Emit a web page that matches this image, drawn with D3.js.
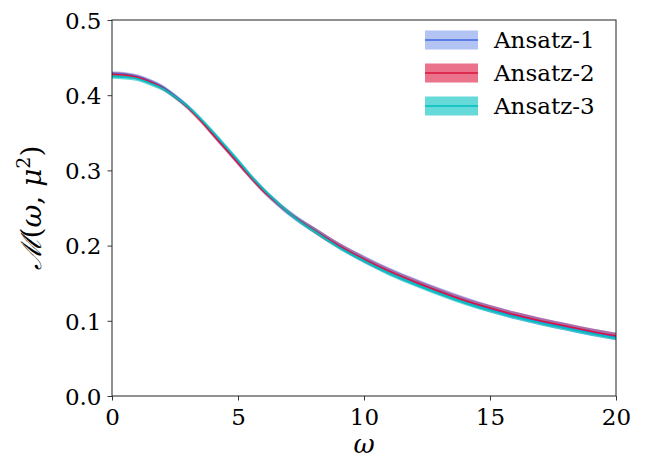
<!DOCTYPE html>
<html><head><meta charset="utf-8">
<script src="https://cdn.jsdelivr.net/npm/d3@7"></script>
<style>body{margin:0;background:#fff}svg{display:block}</style>
</head><body>
<svg id="chart" width="645" height="458"></svg>
<script>
const omega   = [0,0.5,1,1.5,2,2.5,3,3.5,4,4.5,5,5.5,6,6.5,7,7.5,8,9,10,11,12,13,14,15,16,17,18,19,20];
const ansatz1 = [0.429,0.428,0.425,0.419,0.411,0.399,0.385,0.368,0.349,0.330,0.311,0.292,0.274,0.258,0.244,0.232,0.221,0.200,0.182,0.166,0.152,0.139,0.127,0.116,0.107,0.099,0.092,0.085,0.079];
const err1    = [0.003,0.003,0.003,0.003,0.003,0.003,0.003,0.003,0.004,0.004,0.004,0.004,0.004,0.004,0.004,0.004,0.004,0.004,0.005,0.005,0.005,0.005,0.005,0.005,0.005,0.005,0.005,0.005,0.005];
const ansatz2 = [0.428,0.427,0.424,0.418,0.410,0.398,0.384,0.367,0.348,0.329,0.310,0.291,0.273,0.258,0.244,0.232,0.221,0.200,0.182,0.166,0.152,0.139,0.127,0.117,0.108,0.100,0.093,0.086,0.080];
const err2    = [0.003,0.003,0.003,0.003,0.003,0.003,0.003,0.003,0.003,0.003,0.003,0.003,0.003,0.003,0.003,0.003,0.004,0.004,0.004,0.004,0.004,0.004,0.004,0.004,0.004,0.004,0.004,0.004,0.004];
const ansatz3 = [0.425,0.424,0.422,0.416,0.409,0.398,0.385,0.369,0.351,0.332,0.313,0.293,0.275,0.259,0.244,0.231,0.220,0.198,0.180,0.163,0.149,0.136,0.124,0.114,0.105,0.097,0.090,0.083,0.077];
const err3    = [0.003,0.003,0.003,0.003,0.003,0.003,0.003,0.003,0.003,0.003,0.003,0.003,0.003,0.003,0.003,0.003,0.003,0.003,0.003,0.003,0.003,0.003,0.003,0.003,0.003,0.003,0.003,0.003,0.003];
const seriesNames = ["Ansatz-1","Ansatz-2","Ansatz-3"];
const xTicks = [0,5,10,15,20];
const yTicks = [0.0,0.1,0.2,0.3,0.4,0.5];

const series = [
  {name: seriesNames[0], mean: ansatz1, err: err1, fill: "rgba(65,105,225,0.4)", line: "#4169E1"},
  {name: seriesNames[1], mean: ansatz2, err: err2, fill: "rgba(220,20,60,0.6)", line: "#DC143C"},
  {name: seriesNames[2], mean: ansatz3, err: err3, fill: "rgba(0,191,191,0.6)", line: "#00BFBF"}
];

const svg = d3.select("#chart");
const L = 112, R = 616, T = 20, B = 396;
const x = d3.scaleLinear().domain([0,20]).range([L,R]);
const y = d3.scaleLinear().domain([0,0.5]).range([B,T]);
const font = "'DejaVu Serif', serif";

svg.append("defs").append("clipPath").attr("id","clip")
  .append("rect").attr("x",L).attr("y",T).attr("width",R-L).attr("height",B-T);
const g = svg.append("g").attr("clip-path","url(#clip)");

const curve = d3.curveMonotoneX;
const area = s => d3.area().curve(curve)
  .x((d,i)=>x(omega[i])).y0((d,i)=>y(s.mean[i]-s.err[i])).y1((d,i)=>y(s.mean[i]+s.err[i]));
const line = s => d3.line().curve(curve).x((d,i)=>x(omega[i])).y((d,i)=>y(s.mean[i]));

// fills: red first, then blue, then cyan
[series[1], series[0], series[2]].forEach(s=>{
  g.append("path").attr("d", area(s)(s.mean)).attr("fill", s.fill).attr("stroke","none");
});
[series[0], series[1], series[2]].forEach(s=>{
  g.append("path").attr("d", line(s)(s.mean)).attr("fill","none").attr("stroke", s.line).attr("stroke-width",1.5);
});

// axes
const xAxis = d3.axisBottom(x).tickValues(xTicks).tickFormat(d3.format("d")).tickSize(4.5).tickPadding(5);
const yAxis = d3.axisLeft(y).tickValues(yTicks).tickFormat(d3.format(".1f")).tickSize(4.5).tickPadding(6);
const gx = svg.append("g").attr("transform",`translate(0,${B})`).call(xAxis);
const gy = svg.append("g").attr("transform",`translate(${L},0)`).call(yAxis);
[gx,gy].forEach(a=>{
  a.select(".domain").remove();
  a.selectAll(".tick line").attr("stroke","#222").attr("stroke-width",0.9);
  a.selectAll(".tick text").attr("fill","#000").style("font-family",font).style("font-size","23px");
});
gx.selectAll(".tick text").attr("dy","0.85em");
gy.selectAll(".tick text").attr("dy","0.36em");

// frame
svg.append("rect").attr("x",L).attr("y",T).attr("width",R-L).attr("height",B-T)
  .attr("fill","none").attr("stroke","#222").attr("stroke-width",1);

// axis labels
svg.append("text").attr("x",(L+R)/2).attr("y",453).attr("text-anchor","middle")
  .style("font-family",font).style("font-size","26px").style("font-style","italic").text("ω");
const yl = svg.append("text").attr("transform",`translate(41,${(T+B)/2}) rotate(-90)`)
  .attr("text-anchor","middle").style("font-family",font).style("font-size","28px");
yl.append("tspan").style("font-style","italic").text("ℳ");
yl.append("tspan").text("(");
yl.append("tspan").style("font-style","italic").text("ω");
yl.append("tspan").text(", ");
yl.append("tspan").style("font-style","italic").text("μ");
yl.append("tspan").attr("dy",-11).style("font-size","19px").text("2");
yl.append("tspan").attr("dy",11).text(")");

// legend
const lg = svg.append("g");
series.forEach((s,i)=>{
  const cy = 40 + i*33;
  lg.append("rect").attr("x",425).attr("y",cy-9.5).attr("width",53).attr("height",19).attr("fill",s.fill);
  lg.append("line").attr("x1",425).attr("x2",478).attr("y1",cy).attr("y2",cy).attr("stroke",s.line).attr("stroke-width",1.5);
  lg.append("text").attr("x",494).attr("y",cy).attr("dy","0.36em")
    .style("font-family",font).style("font-size","23px").text(s.name);
});
</script>
</body></html>
